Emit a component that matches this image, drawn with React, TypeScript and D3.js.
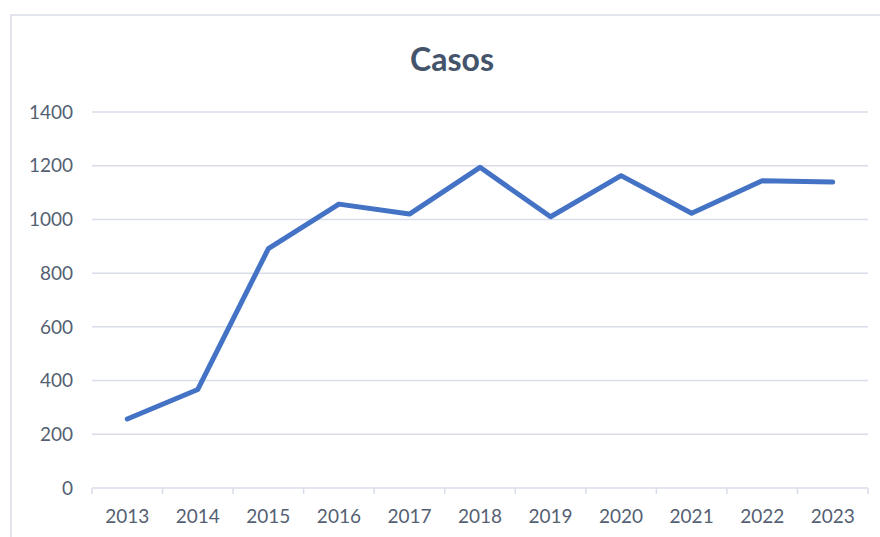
import React from "react";
import * as d3 from "d3";

const years = ["2013","2014","2015","2016","2017","2018","2019","2020","2021","2022","2023"];
const casos = [257, 367, 891, 1057, 1020, 1194, 1010, 1163, 1023, 1144, 1139];
const yTicks = [0, 200, 400, 600, 800, 1000, 1200, 1400];
const title = "Casos";

export default function App() {
  const W = 880, H = 537;
  const x = d3.scaleBand<string>().domain(years).range([92, 868]).padding(0);
  const y = d3.scaleLinear().domain([0, 1400]).range([488, 112]);
  const cx = (d: string) => (x(d) as number) + x.bandwidth() / 2;
  const line = d3.line<number>().x((_, i) => cx(years[i])).y((v) => y(v));
  const grid = "#D9DDE9";
  const text = "#555F73";
  const ticksX = years.map((d) => x(d) as number).concat([868]);
  return (
    <svg width={W} height={H} style={{ position: "absolute", left: 0, top: 0, background: "#fff" }}>
      <rect x={11} y={15} width={W} height={H} fill="#fff" stroke="#D9DDE9" strokeWidth={1.5} />
      <text x={452} y={71} textAnchor="middle" fontFamily="Lato" fontWeight="bold" fontSize={32} fill="#44546A">{title}</text>
      {yTicks.map((t) => (
        <g key={t}>
          {t > 0 && <line x1={92} x2={868} y1={y(t)} y2={y(t)} stroke={grid} strokeWidth={1.5} />}
          <text x={73} y={y(t)} dy="0.35em" textAnchor="end" fontFamily="Lato" fontSize={19} fill={text}>{t}</text>
        </g>
      ))}
      <line x1={92} x2={868} y1={488} y2={488} stroke={grid} strokeWidth={1.5} />
      {ticksX.map((t, i) => (
        <line key={i} x1={t} x2={t} y1={488} y2={494} stroke={grid} strokeWidth={1.5} />
      ))}
      {years.map((d) => (
        <text key={d} x={cx(d)} y={523} textAnchor="middle" fontFamily="Lato" fontSize={19} fill={text}>{d}</text>
      ))}
      <path d={line(casos) || ""} fill="none" stroke="#4472C4" strokeWidth={5} strokeLinejoin="round" strokeLinecap="round" />
    </svg>
  );
}
